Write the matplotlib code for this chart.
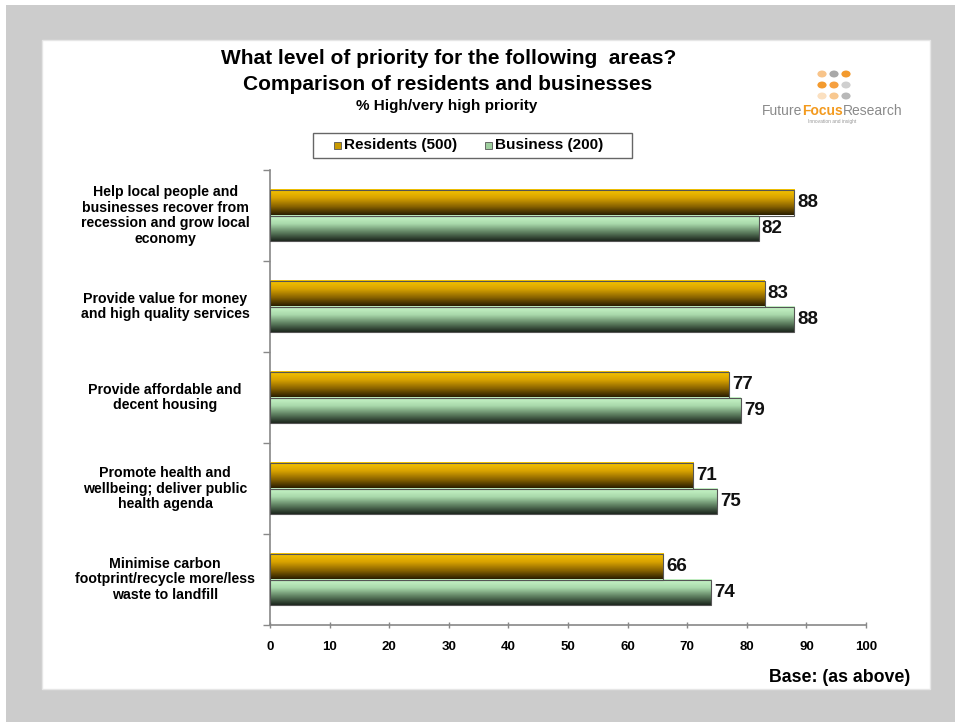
import numpy as np
import matplotlib.pyplot as plt
from matplotlib.colors import LinearSegmentedColormap
from matplotlib.patches import Rectangle

plt.rcParams['font.family'] = ['Liberation Sans', 'DejaVu Sans']

areas = [
    "Help local people and\nbusinesses recover from\nrecession and grow local\neconomy",
    "Provide value for money\nand high quality services",
    "Provide affordable and\ndecent housing",
    "Promote health and\nwellbeing; deliver public\nhealth agenda",
    "Minimise carbon\nfootprint/recycle more/less\nwaste to landfill",
]
residents = [88, 83, 77, 71, 66]
business = [82, 88, 79, 75, 74]
series_names = ["Residents (500)", "Business (200)"]
xticks = list(range(0, 101, 10))

W, H = 955, 722
fig = plt.figure(figsize=(W / 100, H / 100), dpi=100, facecolor='white')

# grey mount with a white card on top
fig.patches.append(Rectangle((6 / W, 0), 1 - 6 / W, 1 - 5 / H, transform=fig.transFigure,
                             facecolor='#cccccc', edgecolor='none', zorder=-2))
fig.patches.append(Rectangle((42 / W, 1 - 689 / H), (930 - 42) / W, (689 - 40) / H,
                             transform=fig.transFigure, facecolor='white',
                             edgecolor='#e6e6e6', lw=1, zorder=-1))

ax = fig.add_axes([270 / W, 1 - 625 / H, 596 / W, 455 / H])
ax.set_facecolor('none')

gold = LinearSegmentedColormap.from_list('gold', ['#f7c600', '#d9a300', '#8a6400', '#2a1e00'])
green = LinearSegmentedColormap.from_list('green', ['#c9f7c9', '#a9d9ab', '#5e7f60', '#1c261d'])
grad = np.linspace(0, 1, 64).reshape(-1, 1)

bh = 0.28
y = np.arange(len(areas))
for i in range(len(areas)):
    for val, y0, cmap in [(residents[i], y[i] - bh, gold), (business[i], y[i], green)]:
        ax.imshow(grad, cmap=cmap, aspect='auto', extent=[0, val, y0 + bh, y0],
                  interpolation='bilinear', zorder=2)
        ax.add_patch(Rectangle((0, y0), val, bh, facecolor='none',
                               edgecolor='#555555', lw=0.8, zorder=3))
        ax.text(val + 0.5, y0 + bh / 2, str(val), va='center', ha='left',
                fontsize=13.5, fontweight='bold', color='#111111')

ax.set_xlim(0, 100)
ax.set_ylim(len(areas) - 0.5, -0.5)
ax.set_xticks(xticks)
ax.set_xticklabels([str(t) for t in xticks], fontsize=9.5, fontweight='bold')
ax.set_yticks(np.arange(-0.5, len(areas), 1.0))
ax.set_yticklabels([])
ax.tick_params(axis='x', length=5, width=1, color='#888888', direction='inout', pad=9)
ax.tick_params(axis='y', length=5, width=1, color='#888888', direction='out')
for s in ['top', 'right']:
    ax.spines[s].set_visible(False)
for s in ['left', 'bottom']:
    ax.spines[s].set_color('#888888')
    ax.spines[s].set_linewidth(1.2)

for i, lab in enumerate(areas):
    ax.text(-17.6, y[i], lab, ha='center', va='center', fontsize=10.2,
            fontweight='bold', linespacing=1.15, clip_on=False)

# titles
fig.text(449 / W, 1 - 58 / H, "What level of priority for the following  areas?",
         ha='center', va='center', fontsize=15, fontweight='bold')
fig.text(448 / W, 1 - 84 / H, "Comparison of residents and businesses",
         ha='center', va='center', fontsize=15, fontweight='bold')
fig.text(447 / W, 1 - 106 / H, "% High/very high priority",
         ha='center', va='center', fontsize=11, fontweight='bold')

# legend
lx0, ly0, lx1, ly1 = 313, 133, 632, 158
fig.patches.append(Rectangle((lx0 / W, 1 - ly1 / H), (lx1 - lx0) / W, (ly1 - ly0) / H,
                             transform=fig.transFigure, facecolor='white',
                             edgecolor='#666666', lw=1))
for name, col, x in [(series_names[0], '#c99a00', 338), (series_names[1], '#9fcf9f', 489)]:
    fig.patches.append(Rectangle(((x - 4) / W, 1 - 149 / H), 7 / W, 7 / H,
                                 transform=fig.transFigure, facecolor=col,
                                 edgecolor='#555555', lw=0.6))
    fig.text((x + 6) / W, 1 - 145.5 / H, name, ha='left', va='center',
             fontsize=11, fontweight='bold')

# logo
dot_cols = [['#f8c48a', '#a8a8a8', '#f39a2e'],
            ['#f39a2e', '#f6a040', '#cfcfcf'],
            ['#fbe0c0', '#f8c890', '#b8b8b8']]
for r in range(3):
    for c in range(3):
        fig.patches.append(plt.Circle(((822 + c * 12) / W, 1 - (74 + r * 11) / H), 4.6 / W,
                                      transform=fig.transFigure, facecolor=dot_cols[r][c],
                                      edgecolor='none'))
renderer = fig.canvas.get_renderer()
xpos = 762
for part, col, wt in [("Future", '#8a8a8a', 'normal'), ("Focus", '#f39a1e', 'bold'),
                      ("Research", '#8a8a8a', 'normal')]:
    t = fig.text(xpos / W, 1 - 111 / H, part, ha='left', va='center', fontsize=10,
                 color=col, fontweight=wt)
    xpos += t.get_window_extent(renderer).width
fig.text(832 / W, 1 - 122 / H, "Innovation and insight", ha='center', va='center',
         fontsize=3.5, color='#999999')

fig.text(910 / W, 1 - 677 / H, "Base: (as above)", ha='right', va='center',
         fontsize=12.8, fontweight='bold')

fig.savefig('out.png', dpi=100, facecolor=fig.get_facecolor())
